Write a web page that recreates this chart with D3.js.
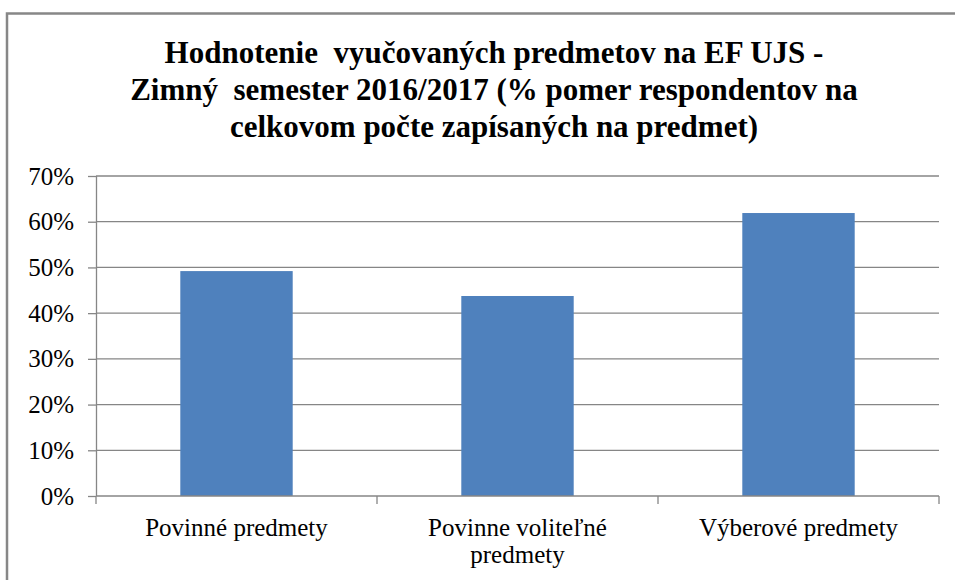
<!DOCTYPE html>
<html>
<head>
    <meta charset="utf-8">
    <title>Hodnotenie predmetov</title>
    <style>
        body { margin: 0; background: #fff; }
        svg text { font-family: "Liberation Serif", "DejaVu Serif", "Times New Roman", serif; }
    </style>
</head>
<body>
    <script src="https://cdnjs.cloudflare.com/ajax/libs/d3/7.9.0/d3.min.js"></script>
    <script>

        const categories = ["Povinné predmety", "Povinne voliteľné predmety", "Výberové predmety"];
        const values = [0.492, 0.4375, 0.619];
        const yTicks = [0, 0.1, 0.2, 0.3, 0.4, 0.5, 0.6, 0.7];
        const titleLines = [
            "Hodnotenie  vyučovaných predmetov na EF UJS -",
            "Zimný  semester 2016/2017 (% pomer respondentov na",
            "celkovom počte zapísaných na predmet)"
        ];

        const width = 955;
        const height = 580;
        const margin = {top: 176, right: 16, bottom: 84, left: 96};

        const svg = d3.select("body")
            .append("svg")
            .attr("width", width)
            .attr("height", height);

        // chart frame, runs past the right and bottom edge
        svg.append("rect")
            .attr("x", 7)
            .attr("y", 13.5)
            .attr("width", 1000)
            .attr("height", 700)
            .attr("fill", "none")
            .attr("stroke", "#878787")
            .attr("stroke-width", 2.5);

        // title
        svg.append("text")
            .attr("text-anchor", "middle")
            .attr("font-weight", "bold")
            .attr("font-size", "31px")
            .attr("fill", "#000")
            .selectAll("tspan")
            .data(titleLines)
            .enter()
            .append("tspan")
            .attr("x", 494)
            .attr("y", (d, i) => 63 + i * 37)
            .attr("xml:space", "preserve")
            .text(d => d);

        const x = d3.scaleBand()
            .domain(categories)
            .range([margin.left, width - margin.right])
            .paddingInner(0.6)
            .paddingOuter(0.3);

        const y = d3.scaleLinear()
            .domain([0, 0.7])
            .range([height - margin.bottom, margin.top]);

        // gridlines
        svg.append("g")
            .selectAll("line")
            .data(yTicks.slice(1))
            .enter()
            .append("line")
            .attr("x1", margin.left)
            .attr("x2", width - margin.right)
            .attr("y1", d => y(d))
            .attr("y2", d => y(d))
            .attr("stroke", "#868686")
            .attr("stroke-width", 1.3);

        // bars
        svg.append("g")
            .selectAll("rect")
            .data(values)
            .enter()
            .append("rect")
            .attr("x", (d, i) => x(categories[i]))
            .attr("y", d => y(d))
            .attr("width", x.bandwidth())
            .attr("height", d => y(0) - y(d))
            .attr("fill", "#4F81BD");

        // y axis
        const yAxis = svg.append("g")
            .attr("transform", `translate(${margin.left},0)`)
            .call(d3.axisLeft(y).tickValues(yTicks).tickFormat(d3.format(".0%")).tickSize(8).tickPadding(14));
        yAxis.attr("font-family", null).attr("font-size", null);
        yAxis.selectAll("line, path").attr("stroke", "#868686").attr("stroke-width", 1.3);
        yAxis.select(".domain").attr("d", `M0.5,${y(0)}V${y(0.7)}`);
        yAxis.selectAll("text")
            .attr("font-size", "25px")
            .attr("fill", "#000");

        // x axis, ticks between categories
        const x0 = margin.left, step = x.step();
        const bounds = d3.range(categories.length + 1).map(i => x0 + i * step);
        const xAxis = svg.append("g");
        xAxis.append("line")
            .attr("x1", margin.left)
            .attr("x2", width - margin.right)
            .attr("y1", y(0))
            .attr("y2", y(0))
            .attr("stroke", "#868686")
            .attr("stroke-width", 1.3);
        xAxis.selectAll(".tk")
            .data(bounds)
            .enter()
            .append("line")
            .attr("x1", d => d)
            .attr("x2", d => d)
            .attr("y1", y(0))
            .attr("y2", y(0) + 8)
            .attr("stroke", "#868686")
            .attr("stroke-width", 1.3);

        // category labels, wrapped to band width
        const labels = xAxis.selectAll(".lbl")
            .data(categories)
            .enter()
            .append("text")
            .attr("text-anchor", "middle")
            .attr("font-size", "25px")
            .attr("fill", "#000");

        labels.each(function (d) {
            const t = d3.select(this);
            const cx = x(d) + x.bandwidth() / 2;
            const words = d.split(" ");
            let lines = [], line = [];
            const probe = t.append("tspan");
            words.forEach(w => {
                line.push(w);
                probe.text(line.join(" "));
                if (probe.node().getComputedTextLength() > step - 20 && line.length > 1) {
                    line.pop();
                    lines.push(line.join(" "));
                    line = [w];
                }
            });
            lines.push(line.join(" "));
            probe.remove();
            t.selectAll("tspan")
                .data(lines)
                .enter()
                .append("tspan")
                .attr("x", cx)
                .attr("y", (l, i) => y(0) + 40 + i * 27)
                .text(l => l);
        });

    </script>
</body>
</html>
